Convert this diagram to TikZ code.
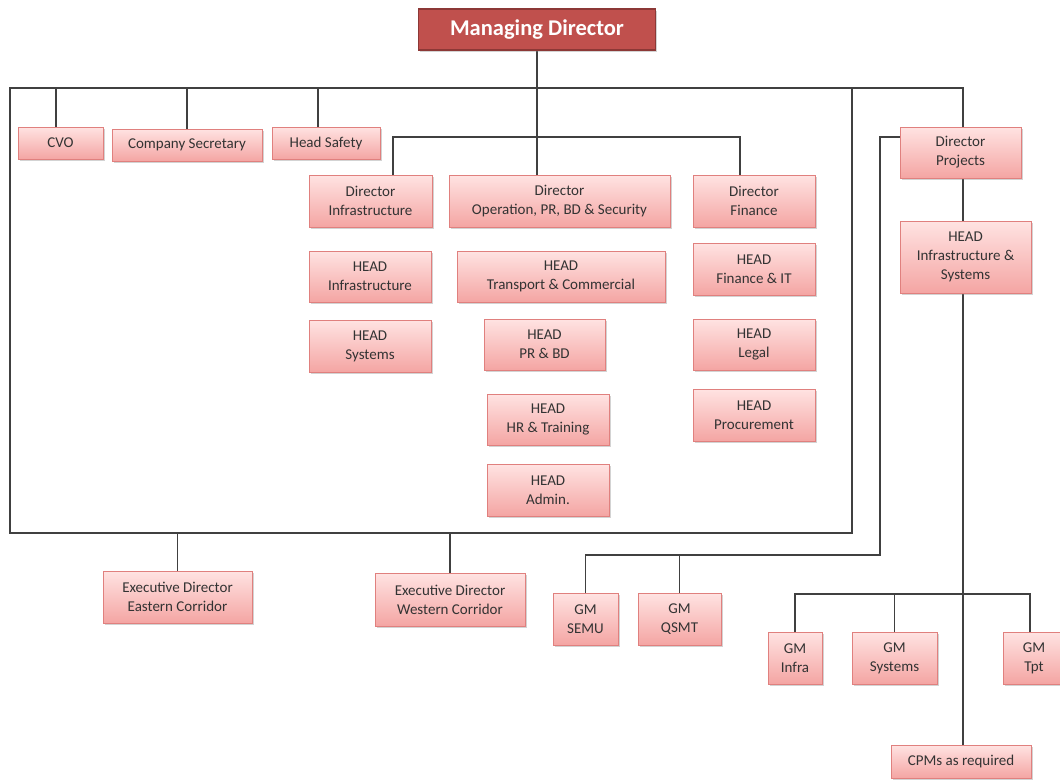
\documentclass[tikz,border=0pt]{standalone}
\usepackage{fontspec}
\setmainfont{Carlito}
\usetikzlibrary{shadows,backgrounds}
\definecolor{boxtop}{HTML}{FFE3E2}
\definecolor{boxbot}{HTML}{F4A5A3}
\definecolor{boxline}{HTML}{E0807E}
\definecolor{mdfill}{HTML}{C0504D}
\definecolor{mdline}{HTML}{8C3836}
\definecolor{txt}{HTML}{333333}
\definecolor{wire}{HTML}{404040}
\tikzset{
  box/.style={draw=boxline, line width=1pt, top color=boxtop, bottom color=boxbot,
    text=txt, align=center, inner sep=0pt, font=\fontsize{15}{19}\selectfont,
    drop shadow={shadow xshift=1.5pt, shadow yshift=-1.5pt, opacity=0.35}},
  mdbox/.style={draw=mdline, line width=1.2pt, fill=mdfill, text=white, inner sep=0pt,
    font=\fontsize{22.5}{26}\selectfont\bfseries,
    drop shadow={shadow xshift=1.5pt, shadow yshift=-1.5pt, opacity=0.35}},
  wire/.style={draw=wire, line width=1.4pt},
}
\begin{document}
\begin{tikzpicture}[x=1pt,y=-1pt]
\useasboundingbox (0,0) rectangle (1060,779);
% nodes
\node[mdbox, minimum width=237pt, minimum height=41pt] (md) at (537,29.5) {Managing Director};
\node[box, minimum width=85pt, minimum height=32pt] (cvo) at (60.5,143) {CVO};
\node[box, minimum width=150pt, minimum height=32pt] (cs) at (187,145) {Company Secretary};
\node[box, minimum width=108pt, minimum height=32pt] (hs) at (326,143) {Head Safety};
\node[box, minimum width=123pt, minimum height=52pt] (dinf) at (370.5,201) {Director\\Infrastructure};
\node[box, minimum width=221pt, minimum height=52pt] (dop) at (559.5,201) {Director\\Operation, PR, BD \& Security};
\node[box, minimum width=122pt, minimum height=52pt] (dfin) at (754,201) {Director\\Finance};
\node[box, minimum width=122pt, minimum height=51pt] (hinf) at (370,276.5) {HEAD\\Infrastructure};
\node[box, minimum width=208pt, minimum height=51pt] (htc) at (561,276.5) {HEAD\\Transport \& Commercial};
\node[box, minimum width=122pt, minimum height=52pt] (hfit) at (754,269) {HEAD\\Finance \& IT};
\node[box, minimum width=122pt, minimum height=52pt] (hsys) at (370,346) {HEAD\\Systems};
\node[box, minimum width=121pt, minimum height=51pt] (hprbd) at (544.5,344.5) {HEAD\\PR \& BD};
\node[box, minimum width=122pt, minimum height=51pt] (hlegal) at (754,344.5) {HEAD\\Legal};
\node[box, minimum width=122pt, minimum height=51pt] (hhr) at (548,419.5) {HEAD\\HR \& Training};
\node[box, minimum width=122pt, minimum height=52pt] (hadmin) at (548,490) {HEAD\\Admin.};
\node[box, minimum width=122pt, minimum height=52pt] (hproc) at (754,415) {HEAD\\Procurement};
\node[box, minimum width=121pt, minimum height=51pt] (dproj) at (960.5,152.5) {Director\\Projects};
\node[box, minimum width=131pt, minimum height=72pt] (his) at (965.5,257) {HEAD\\Infrastructure \&\\Systems};
\node[box, minimum width=140pt, minimum height=33pt] (cpm) at (961,761.5) {CPMs as required};
\node[box, minimum width=54pt, minimum height=52pt] (gminfra) at (795,658) {GM\\Infra};
\node[box, minimum width=85pt, minimum height=52pt] (gmsys) at (894.5,658) {GM\\Systems};
\node[box, minimum width=62pt, minimum height=52pt] (gmtpt) at (1034,658) {GM\\Tpt};
\node[box, minimum width=65pt, minimum height=52pt] (gmsemu) at (585.5,619) {GM\\SEMU};
\node[box, minimum width=83pt, minimum height=52pt] (gmqsmt) at (679.5,619) {GM\\QSMT};
\node[box, minimum width=149pt, minimum height=52pt] (ede) at (177.5,597) {Executive Director\\Eastern Corridor};
\node[box, minimum width=150pt, minimum height=53pt] (edw) at (450,599.5) {Executive Director\\Western Corridor};
% bus coordinates
\coordinate (topbus) at (0,88);
\coordinate (dbus) at (0,137);
\coordinate (botbus) at (0,533);
\coordinate (pbus) at (0,555);
\coordinate (gbus) at (0,594);
\coordinate (fl) at (10,88);
\coordinate (fr) at (852,533);
\coordinate (pl) at (880,137);
\coordinate (vline) at (963,0);
\coordinate (dil) at (393,0);
\coordinate (dfl) at (740,0);
\coordinate (cvol) at (56,0);
\coordinate (hsl) at (318,0);
\coordinate (tptl) at (1030,0);
% connectors
\begin{scope}[on background layer]
\draw[wire] (md.south) -- (md.south |- dop.north);
\draw[wire] (fl) rectangle (fr);
\draw[wire] (fl) -- (vline |- topbus) -- (vline |- dproj.north);
\draw[wire] (cvol |- topbus) -- (cvol |- cvo.north);
\draw[wire] (cs.north |- topbus) -- (cs.north);
\draw[wire] (hsl |- topbus) -- (hsl |- hs.north);
\draw[wire] (dil |- dinf.north) -- (dil |- dbus) -- (dfl |- dbus) -- (dfl |- dfin.north);
\draw[wire] (dproj.west |- pl) -- (pl) -- (pl |- pbus) -| (gmsemu.north);
\draw[wire] (gmqsmt.north |- pbus) -- (gmqsmt.north);
\draw[wire] (vline |- dproj.south) -- (vline |- his.north);
\draw[wire] (vline |- his.south) -- (vline |- cpm.north);
\draw[wire] (gminfra.north) -- (gminfra.north |- gbus) -- (tptl |- gbus) -- (tptl |- gmtpt.north);
\draw[wire] (gmsys.north |- gbus) -- (gmsys.north);
\draw[wire] (ede.north |- botbus) -- (ede.north);
\draw[wire] (edw.north |- botbus) -- (edw.north);
\end{scope}
\end{tikzpicture}
\end{document}
